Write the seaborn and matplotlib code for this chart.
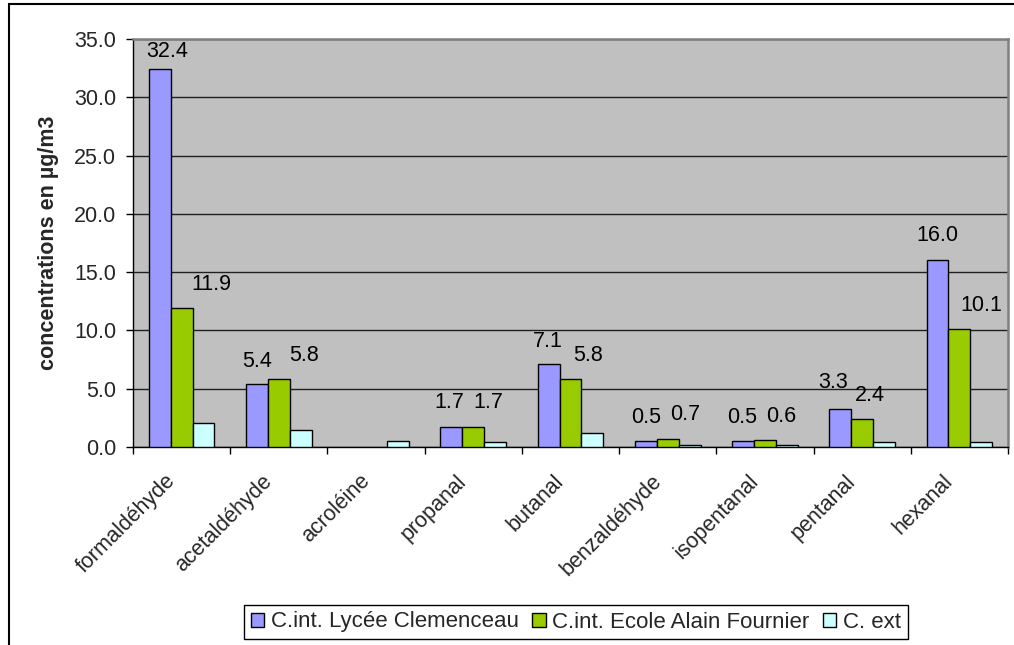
import numpy as np
import pandas as pd
import matplotlib
matplotlib.use("Agg")
import matplotlib.pyplot as plt
import matplotlib.transforms as mtransforms
from matplotlib.patches import Patch, Rectangle
import seaborn as sns

# ---- data -------------------------------------------------------------
compounds = ["formaldéhyde", "acetaldéhyde", "acroléine", "propanal", "butanal",
             "benzaldéhyde", "isopentanal", "pentanal", "hexanal"]
series_names = ["C.int. Lycée Clemenceau", "C.int. Ecole Alain Fournier", "C. ext"]
clemenceau = [32.4, 5.4, np.nan, 1.7, 7.1, 0.5, 0.5, 3.3, 16.0]
fournier = [11.9, 5.8, np.nan, 1.7, 5.8, 0.7, 0.6, 2.4, 10.1]
exterieur = [2.1, 1.5, 0.5, 0.4, 1.2, 0.15, 0.15, 0.4, 0.4]
y_ticks = [0, 5, 10, 15, 20, 25, 30, 35]
y_label = "concentrations en µg/m3"

# ---- styling ----------------------------------------------------------
colors = ["#9999FF", "#99CC00", "#CCFFFF"]
# label nudges (pixels: right, up) relative to the top centre of each bar
label_nudge = {
    0: [(7, 18), (0, 23), None, (-2, 25), (-1, 23), (0, 24), (-1, 24), (-7, 26), (0, 25)],
    1: [(30, 24), (25, 24), None, (15, 25), (18, 24), (17, 24), (16, 24), (8, 24), (22, 24)],
}
FS = 15.5

sns.set_theme(style="white")
plt.rcParams["font.family"] = ["Liberation Sans", "DejaVu Sans"]

df = pd.DataFrame({
    "compound": np.repeat(compounds, 3),
    "series": series_names * len(compounds),
    "value": np.ravel(np.column_stack([clemenceau, fournier, exterieur])),
}).dropna()

fig = plt.figure(figsize=(10.14, 6.45), dpi=100)
ax = fig.add_axes([133 / 1014, 1 - 447 / 645, 875 / 1014, 408 / 645])
ax.set_facecolor("#C0C0C0")

sns.barplot(data=df, x="compound", y="value", hue="series",
            order=compounds, hue_order=series_names, palette=colors,
            saturation=1, width=0.675, edgecolor="black", linewidth=1.0,
            errorbar=None, legend=False, ax=ax, zorder=3)

ax.set_xlim(-0.5, len(compounds) - 0.5)
ax.set_ylim(y_ticks[0], y_ticks[-1])
ax.set_yticks(y_ticks)
ax.set_yticklabels([f"{v:.1f}" for v in y_ticks], fontsize=FS)
ax.yaxis.grid(True, color="#202020", linewidth=1.0, zorder=0)
ax.set_axisbelow(True)

# category labels at centres, tick marks at category boundaries
ax.set_xticks(range(len(compounds)))
ax.set_xticklabels(compounds, rotation=45, ha="right", va="top",
                   rotation_mode="anchor", fontsize=FS)
ax.set_xticks(np.arange(-0.5, len(compounds), 1.0), minor=True)
ax.tick_params(axis="x", which="major", length=0, pad=17)
ax.tick_params(axis="x", which="minor", length=5, width=1, color="black",
               direction="out", bottom=True)
ax.tick_params(axis="y", length=5, width=1, color="black", direction="out",
               left=True, pad=7)
shift = mtransforms.ScaledTranslation(-17 / 100, 0, fig.dpi_scale_trans)
for lbl in ax.get_xticklabels():
    lbl.set_transform(lbl.get_transform() + shift)

ax.set_xlabel("")
ax.set_ylabel(y_label, fontsize=15.5, fontweight="bold")
ax.yaxis.set_label_coords(-74 / 875, 0.5)

for side in ("left", "bottom"):
    ax.spines[side].set_color("black")
    ax.spines[side].set_linewidth(1.0)
for side in ("top", "right"):
    ax.spines[side].set_color("#808080")
    ax.spines[side].set_linewidth(1.8)

# value labels for the two indoor series
for s_idx in (0, 1):
    for bar in ax.containers[s_idx]:
        h = bar.get_height()
        xc = bar.get_x() + bar.get_width() / 2
        cat = int(round(xc))
        dx, dy = label_nudge[s_idx][cat]
        ax.annotate(f"{h:.1f}", xy=(xc, h), xytext=(dx, dy),
                    textcoords="offset pixels", ha="center", va="center",
                    fontsize=FS, color="black", zorder=5)

handles = [Patch(facecolor=c, edgecolor="black", linewidth=1.0) for c in colors]
fig.legend(handles, series_names, loc="center", bbox_to_anchor=(576 / 1014, 1 - 622 / 645),
           ncol=3, frameon=True, fancybox=False, edgecolor="black", framealpha=1,
           fontsize=16, handlelength=0.6, handleheight=0.6, handletextpad=0.3,
           columnspacing=0.6, borderpad=0.3, borderaxespad=0)

# outer chart frame
fig.patches.append(Rectangle((9 / 1014, -0.2), 1.5, 1 - 4 / 645 + 0.2,
                             transform=fig.transFigure, fill=False,
                             edgecolor="black", linewidth=1.5))

fig.savefig("out.png", dpi=100, facecolor="white")
